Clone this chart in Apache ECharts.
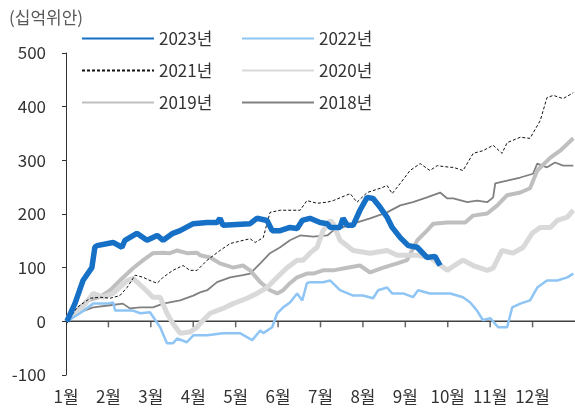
<!DOCTYPE html>
<html>
<head>
<meta charset="utf-8">
<script src="https://cdn.jsdelivr.net/npm/echarts@6/dist/echarts.min.js"></script>
<style>
  html, body { margin: 0; padding: 0; background: #fff; }
  #chart { width: 575px; height: 410px; }
</style>
</head>
<body>
<div id="chart"></div>
<script>
  // x = 월 위치 (0 = 1월 1일, 12 = 연말), y = 십억위안
  const monthLabels = ['1월','2월','3월','4월','5월','6월','7월','8월','9월','10월','11월','12월'];
  const monthTicks = [1, 2, 3, 4, 5, 6, 7, 8, 9, 10, 11];
  const xRange = [0, 12];
  const yTicks = [-100, 0, 100, 200, 300, 400, 500];

  const s2023 = [[0.02,0],[0.21,33],[0.40,76],[0.61,100],[0.68,138],[0.73,141],[1.11,147],[1.32,138],[1.39,151],[1.67,164],[1.91,151],[2.15,160],[2.29,151],[2.52,164],[2.69,169],[3.00,182],[3.33,184],[3.56,184],[3.63,192],[3.70,179],[4.34,182],[4.50,192],[4.74,188],[4.86,169],[5.05,169],[5.28,175],[5.45,173],[5.57,188],[5.75,192],[5.99,184],[6.16,182],[6.23,175],[6.46,175],[6.53,192],[6.63,179],[6.77,179],[6.93,207],[7.10,231],[7.24,229],[7.41,212],[7.57,194],[7.69,175],[7.88,156],[8.07,141],[8.28,138],[8.51,119],[8.70,121],[8.82,104]];

  const s2022 = [[0.02,0],[0.33,15],[0.64,33],[0.97,33],[1.11,35],[1.16,20],[1.44,20],[1.58,20],[1.75,15],[1.98,17],[2.22,-11],[2.38,-41],[2.52,-41],[2.62,-32],[2.85,-39],[3.00,-26],[3.33,-26],[3.70,-22],[4.10,-22],[4.39,-35],[4.58,-17],[4.65,-22],[4.86,-11],[4.98,15],[5.12,26],[5.28,35],[5.45,52],[5.57,39],[5.68,71],[5.75,73],[6.06,73],[6.23,76],[6.46,58],[6.77,48],[7.00,48],[7.24,43],[7.36,58],[7.57,63],[7.69,52],[7.95,52],[8.18,45],[8.30,58],[8.58,52],[8.82,52],[9.06,52],[9.36,45],[9.53,35],[9.69,20],[9.83,2],[10.00,6],[10.19,-11],[10.40,-11],[10.52,26],[10.71,33],[10.94,39],[11.11,63],[11.34,76],[11.58,76],[11.82,82],[11.96,89]];

  const s2021 = [[0.02,-4],[0.26,26],[0.57,43],[0.80,45],[1.04,43],[1.27,48],[1.44,63],[1.63,86],[1.82,82],[1.98,76],[2.15,71],[2.29,82],[2.52,95],[2.76,104],[2.92,95],[3.09,95],[3.33,114],[3.63,132],[3.87,145],[4.34,154],[4.46,147],[4.65,156],[4.81,203],[5.05,207],[5.52,207],[5.68,225],[5.92,220],[6.16,222],[6.30,225],[6.70,238],[6.86,222],[7.10,240],[7.41,248],[7.57,253],[7.69,238],[7.88,257],[8.11,281],[8.35,294],[8.58,281],[8.75,290],[9.06,287],[9.13,287],[9.36,281],[9.60,313],[9.83,318],[10.07,328],[10.28,313],[10.40,333],[10.71,343],[10.94,341],[11.18,374],[11.34,417],[11.49,421],[11.72,415],[11.96,426]];

  const s2020 = [[0.02,6],[0.33,20],[0.64,52],[0.87,45],[1.11,52],[1.44,76],[1.58,80],[1.82,63],[2.05,45],[2.22,45],[2.38,15],[2.52,-4],[2.69,-22],[2.92,-20],[3.09,-11],[3.16,-4],[3.40,15],[3.70,24],[3.94,33],[4.27,43],[4.50,52],[4.74,63],[4.98,82],[5.21,100],[5.45,114],[5.59,114],[5.75,127],[5.92,138],[6.06,169],[6.23,188],[6.30,182],[6.46,151],[6.77,132],[7.17,127],[7.57,132],[7.81,123],[8.28,123],[8.58,119],[8.99,95],[9.06,99],[9.36,114],[9.60,104],[9.93,95],[10.07,99],[10.28,132],[10.54,127],[10.78,138],[10.99,164],[11.18,175],[11.42,175],[11.58,188],[11.82,194],[11.96,207]];

  const s2019 = [[0.02,7],[0.26,20],[0.50,39],[0.80,45],[1.04,58],[1.27,76],[1.58,99],[1.82,114],[2.05,127],[2.29,128],[2.45,127],[2.62,132],[2.85,127],[3.09,128],[3.16,123],[3.40,119],[3.63,108],[3.94,100],[4.17,104],[4.34,95],[4.58,73],[4.81,58],[4.98,52],[5.12,58],[5.28,71],[5.45,82],[5.68,89],[5.83,89],[6.06,95],[6.30,95],[6.63,100],[6.93,104],[7.17,91],[7.48,100],[7.81,108],[8.04,114],[8.28,151],[8.51,169],[8.66,182],[8.99,184],[9.13,184],[9.41,184],[9.60,197],[9.93,201],[10.17,216],[10.40,235],[10.71,240],[10.94,248],[11.11,281],[11.42,305],[11.65,318],[11.96,341]];

  const s2018 = [[0.02,2],[0.33,17],[0.64,26],[1.04,30],[1.34,33],[1.51,24],[1.75,26],[2.05,26],[2.29,33],[2.69,39],[3.00,48],[3.16,54],[3.33,58],[3.56,73],[3.87,82],[4.17,86],[4.34,89],[4.58,108],[4.81,127],[5.05,138],[5.28,151],[5.52,160],[5.83,158],[6.16,160],[6.30,169],[6.77,182],[7.17,192],[7.57,203],[7.88,216],[8.18,222],[8.51,231],[8.82,240],[8.99,229],[9.13,229],[9.46,222],[9.69,225],[9.93,222],[10.07,231],[10.12,257],[10.40,262],[10.71,268],[11.01,275],[11.11,294],[11.34,287],[11.53,296],[11.72,290],[11.96,290]];

  const FONT = '"Noto Sans CJK KR", "Noto Sans", sans-serif';

  function initChart() {
    let chart = echarts.init(document.getElementById('chart'));

    let legendCommon = {
      orient: 'vertical',
      top: 25,
      itemWidth: 72,
      itemHeight: 18,
      itemGap: 15,
      itemStyle: { opacity: 0 },   // 범례에 동그라미 숨김
      textStyle: { fontSize: 17, color: '#333', fontFamily: FONT }
    };

    function line(name, data, color, width, z, dash) {
      return {
        name: name, type: 'line', data: data, symbol: 'none', showSymbol: false, z: z,
        lineStyle: { color: color, width: width, type: dash || 'solid' },
        itemStyle: { color: color }
      };
    }

    let option = {
      animation: false,
      textStyle: { fontFamily: FONT },
      title: {
        text: '(십억위안)',
        left: 4,
        top: 4,
        textStyle: { fontSize: 17, fontWeight: 'normal', color: '#595959', fontFamily: FONT }
      },
      legend: [
        Object.assign({}, legendCommon, { left: 76, data: ['2023년', '2021년', '2019년'] }),
        Object.assign({}, legendCommon, { left: 236, data: ['2022년', '2020년', '2018년'] })
      ],
      grid: { left: 66, right: 0, top: 53, bottom: 35, containLabel: false, outerBoundsMode: 'none' },
      xAxis: {
        // 월 라벨만 아래쪽에 표시
        type: 'value',
        min: xRange[0], max: xRange[1], interval: 1,
        axisLine: { show: false, onZero: false },
        axisTick: { show: false },
        splitLine: { show: false },
        axisLabel: {
          margin: 13,
          fontSize: 17,
          color: '#333',
          fontFamily: FONT,
          showMaxLabel: false,
          formatter: function (v) { return monthLabels[v] || ''; }
        }
      },
      yAxis: {
        type: 'value',
        min: yTicks[0], max: yTicks[yTicks.length - 1], interval: 100,
        axisLine: { show: true, onZero: false, lineStyle: { color: '#333', width: 1 } },
        axisTick: { show: true, length: 4, lineStyle: { color: '#333' } },
        splitLine: { show: false },
        axisLabel: { margin: 20, fontSize: 17, color: '#333', fontFamily: FONT },
        // 0 기준선
        splitArea: { show: false }
      },
      series: [
        {
          name: 'zero',
          type: 'line',
          z: 1,
          silent: true,
          symbol: 'none',
          data: xRange.map(function (m) { return [m, 0]; }),
          lineStyle: { color: '#404040', width: 1.5 },
          itemStyle: { color: '#404040' }
        },
        {
          name: 'ticks',
          type: 'scatter',
          z: 1,
          silent: true,
          data: monthTicks.map(function (m) { return [m, 0]; }),
          symbol: 'rect',
          symbolSize: [1.5, 6],
          symbolOffset: [0, 3],
          itemStyle: { color: '#404040' }
        },
        line('2018년', s2018, '#808080', 1.8, 2),
        line('2019년', s2019, '#bfbfbf', 4, 3),
        line('2020년', s2020, '#d9d9d9', 5, 4),
        line('2021년', s2021, '#111', 1, 5, [3, 2]),
        line('2022년', s2022, '#8ec5f5', 2.5, 6),
        line('2023년', s2023, '#1570c6', 5.5, 7)
      ]
    };

    chart.setOption(option);
  }

  initChart();
</script>
</body>
</html>
